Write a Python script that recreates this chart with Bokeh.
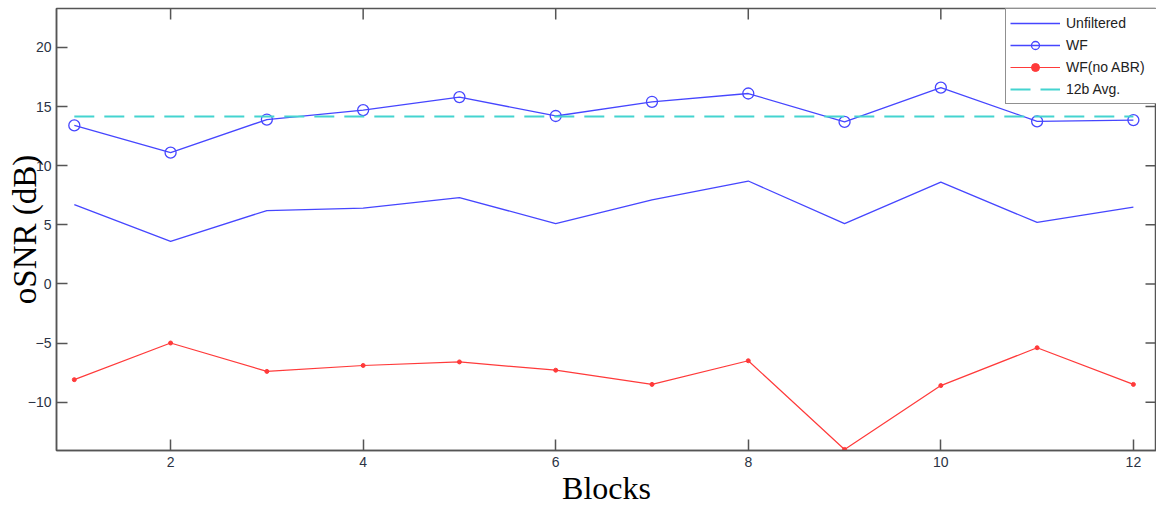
import math
from bokeh.plotting import figure
from bokeh.models import FixedTicker, Range1d, Legend
from bokeh.embed import file_html
from bokeh.resources import INLINE

blocks = [1, 2, 3, 4, 5, 6, 7, 8, 9, 10, 11, 12]
unfiltered = [6.7, 3.6, 6.2, 6.4, 7.3, 5.1, 7.1, 8.7, 5.1, 8.6, 5.2, 6.5]
wf = [13.4, 11.1, 13.9, 14.7, 15.8, 14.2, 15.4, 16.1, 13.7, 16.6, 13.75, 13.85]
wf_no_abr = [-8.1, -5.0, -7.4, -6.9, -6.6, -7.3, -8.5, -6.5, -14.0, -8.6, -5.4, -8.5]
avg_12b = 14.15
x_ticks = [2, 4, 6, 8, 10, 12]
y_ticks = [-10, -5, 0, 5, 10, 15, 20]

AX = "#555555"
TICK_FONT = "Liberation Sans"
LABEL_FONT = "Liberation Serif"

xr = Range1d(0.815, 12.24)
yr = Range1d(-14.09, 23.29)
p = figure(width=1156, height=508, output_backend="svg", toolbar_location=None,
           x_range=xr, y_range=yr,
           min_border_left=56, min_border_right=0, min_border_top=8, min_border_bottom=57)
p.xgrid.visible = False
p.ygrid.visible = False
p.outline_line_color = AX
p.outline_line_width = 1.5

xa = p.xaxis[0]
xa.ticker = FixedTicker(ticks=x_ticks)
ya = p.yaxis[0]
ya.ticker = FixedTicker(ticks=y_ticks)
for ax in (xa, ya):
    ax.axis_line_color = AX
    ax.axis_line_width = 1.5
    ax.major_tick_line_color = AX
    ax.major_tick_line_width = 1.5
    ax.major_tick_in = 11
    ax.major_tick_out = 0
    ax.minor_tick_line_color = None
    ax.major_label_text_font = TICK_FONT
    ax.major_label_text_font_size = "14px"
    ax.major_label_text_color = "#2b3344"
    ax.axis_label_text_font = LABEL_FONT
    ax.axis_label_text_font_style = "normal"
    ax.axis_label_text_color = "black"

xa.axis_label = "Blocks"
xa.axis_label_text_font_size = "32px"
xa.major_label_standoff = 6
xa.axis_label_standoff = 0
ya.axis_label = "oSNR (dB)"
ya.axis_label_text_font_size = "33px"
ya.major_label_standoff = 5
ya.axis_label_standoff = -18

# inward ticks on the top and right edges of the box
p.ray(x=x_ticks, y=[yr.end] * len(x_ticks), length=11, angle=-math.pi / 2,
      length_units="screen", line_color=AX, line_width=1.5)
p.ray(x=[xr.end] * len(y_ticks), y=y_ticks, length=11, angle=math.pi,
      length_units="screen", line_color=AX, line_width=1.5)

BLUE = "#4646ff"
RED = "#ff3a3a"
CYAN = "#44d4d0"

r_unf = p.line(blocks, unfiltered, line_color=BLUE, line_width=1.3)
r_wf_l = p.line(blocks, wf, line_color=BLUE, line_width=1.3)
r_wf_m = p.scatter(blocks, wf, marker="circle", size=11, fill_color=None,
                   line_color=BLUE, line_width=1.3)
r_red_l = p.line(blocks, wf_no_abr, line_color=RED, line_width=1.2)
r_red_m = p.scatter(blocks, wf_no_abr, marker="circle", size=4, fill_color=RED,
                    line_color=RED)
r_avg = p.line([blocks[0], blocks[-1]], [avg_12b, avg_12b], line_color=CYAN,
               line_width=2, line_dash="20 10")

legend = Legend(items=[("Unfiltered", [r_unf]),
                       ("WF", [r_wf_l, r_wf_m]),
                       ("WF(no ABR)", [r_red_l, r_red_m]),
                       ("12b Avg.", [r_avg])],
                location=(949, 346))
legend.margin = 0
legend.padding = 4
legend.spacing = 2
legend.label_height = 20
legend.glyph_height = 20
legend.glyph_width = 50
legend.label_standoff = 6
legend.label_width = 87
legend.label_text_font = TICK_FONT
legend.label_text_font_size = "14px"
legend.label_text_color = "#222222"
legend.border_line_color = "#222222"
legend.border_line_width = 1.2
legend.background_fill_alpha = 1.0
p.add_layout(legend, "center")

open("out.html", "w").write(file_html(p, INLINE))
